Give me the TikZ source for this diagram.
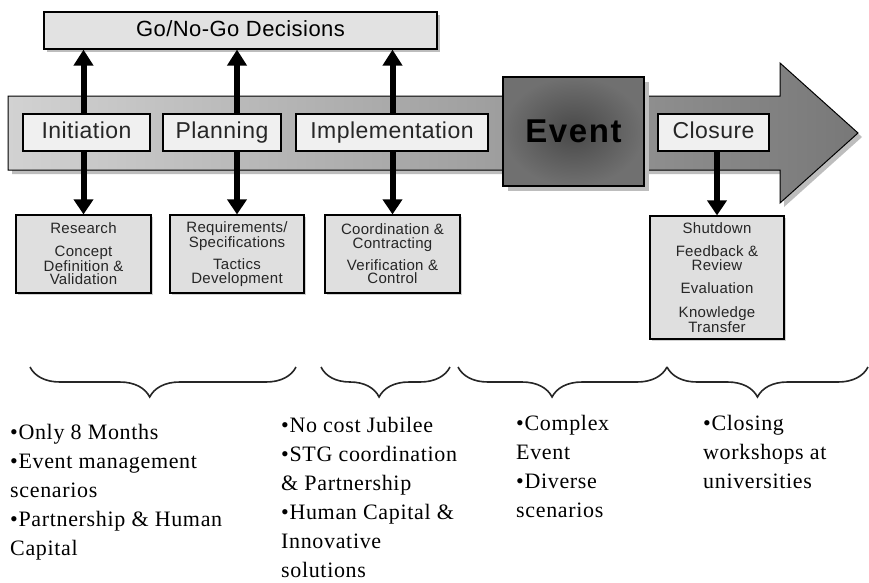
\documentclass[tikz,border=0pt]{standalone}
\usepackage{fontspec}
\setmainfont{Liberation Serif}
\setsansfont{Liberation Sans}
\newfontfamily\notefont{Liberation Serif}[LetterSpace=3]
\newfontfamily\boxfont{Liberation Sans}[LetterSpace=2]
\usetikzlibrary{arrows.meta,decorations.pathreplacing,shadows}

\definecolor{decisiongray}{HTML}{E2E2E2}
\definecolor{phasegray}{HTML}{F0F0F0}
\definecolor{taskgray}{HTML}{DFDFDF}
\definecolor{bandlight}{HTML}{D2D2D2}
\definecolor{banddark}{HTML}{787878}
\definecolor{eventin}{HTML}{484848}
\definecolor{eventout}{HTML}{707070}
\definecolor{shadowgray}{HTML}{BDBDBD}

\begin{document}
\begin{tikzpicture}[x=1pt,y=-1pt,
  decision/.style={draw=black,line width=1.2pt,fill=decisiongray,minimum width=393pt,minimum height=37pt,inner sep=0pt,
    drop shadow={shadow xshift=3pt,shadow yshift=-3pt,fill=shadowgray,opacity=1},
    text height=16pt,text depth=5pt,font=\boxfont\fontsize{22}{22}\selectfont},
  phase/.style={draw=black,line width=1.2pt,fill=phasegray,minimum height=37pt,inner sep=0pt,
    text height=16pt,text depth=5pt,font=\boxfont\fontsize{23}{23}\selectfont,text=black!85},
  task/.style={draw=black,line width=1.2pt,fill=taskgray,inner sep=0pt,align=center,
    drop shadow={shadow xshift=2pt,shadow yshift=-2pt,fill=shadowgray!70,opacity=1},
    font=\boxfont\fontsize{15}{13.5}\selectfont,text=black!85},
  uplink/.style={line width=6pt,-{Triangle[width=19pt,length=16pt]}},
  downlink/.style={line width=6pt,-{Triangle[width=19pt,length=15pt]}},
  bracket/.style={decorate,decoration={brace,mirror,amplitude=30pt,aspect=0.45},line width=1.6pt,draw=black!85},
  note/.style={anchor=north west,align=left,inner sep=0pt,font=\notefont\fontsize{22}{29}\selectfont}]
\useasboundingbox (0,0) rectangle (869,582);

\node[decision] (go) at (240.5,30.5) {Go/No-Go Decisions};

% the timeline arrow
\fill[shadowgray,shift={(4,4)}] (8,96) -- (780,96) -- (780,63) -- (858,133) -- (780,203) -- (780,170) -- (8,170) -- cycle;
\shadedraw[left color=bandlight,right color=banddark,draw=black,line width=1pt]
  (8,96) -- (780,96) -- (780,63) -- (858,133) -- (780,203) -- (780,170) -- (8,170) -- cycle;

\node[draw=black,line width=1.2pt,minimum width=141pt,minimum height=109pt,inner sep=0pt,
  inner color=eventin,outer color=eventout,
  drop shadow={shadow xshift=5pt,shadow yshift=-5pt,fill=shadowgray,opacity=1},
  font=\sffamily\bfseries\addfontfeature{LetterSpace=5}\fontsize{33}{33}\selectfont] (event) at (573.5,131.5) {Event};

\node[phase,minimum width=127pt] (init) at (86.5,132.5) {Initiation};
\node[phase,minimum width=118pt] (plan) at (222,132.5) {Planning};
\node[phase,minimum width=192pt] (impl) at (392,132.5) {Implementation};
\node[phase,minimum width=111pt] (close) at (713.5,132.5) {Closure};

\node[task,minimum width=135pt,minimum height=78pt] (research) at (83.5,254) {Research\\[9pt]Concept\\Definition \&\\Validation};
\node[task,minimum width=134pt,minimum height=78pt] (tactics) at (237,254) {Requirements/\\Specifications\\[7pt]Tactics\\Development};
\node[task,minimum width=135pt,minimum height=78pt] (control) at (392.5,254) {Coordination \&\\Contracting\\[7pt]Verification \&\\Control};
\node[task,minimum width=134pt,minimum height=123pt] (shutdown) at (717,277.5) {Shutdown\\[10pt]Feedback \&\\Review\\[10pt]Evaluation\\[10pt]Knowledge\\Transfer};

\draw[uplink] (research.north |- init.north) -- (research.north |- go.south);
\draw[uplink] (tactics.north |- plan.north) -- (tactics.north |- go.south);
\draw[uplink] (control.north |- impl.north) -- (control.north |- go.south);

\draw[downlink] (research.north |- init.south) -- (research.north);
\draw[downlink] (tactics.north |- plan.south) -- (tactics.north);
\draw[downlink] (control.north |- impl.south) -- (control.north);
\draw[downlink] (shutdown.north |- close.south) -- (shutdown.north);

\draw[bracket] (30,367) -- (296,367);
\draw[bracket] (321,367) -- (450,367);
\draw[bracket] (458,367) -- (667,367);
\draw[bracket] (667,367) -- (868,367);

\node[note] (why1) at (10,424) {\textbullet Only 8 Months\\\textbullet Event management\\scenarios\\\textbullet Partnership \& Human\\Capital};
\node[note] (why2) at (281,417) {\textbullet No cost Jubilee\\\textbullet STG coordination\\\& Partnership\\\textbullet Human Capital \&\\Innovative\\solutions};
\node[note] (why3) at (516,415) {\textbullet Complex\\Event\\\textbullet Diverse\\scenarios};
\node[note] (why4) at (703,415) {\textbullet Closing\\workshops at\\universities};
\end{tikzpicture}
\end{document}
